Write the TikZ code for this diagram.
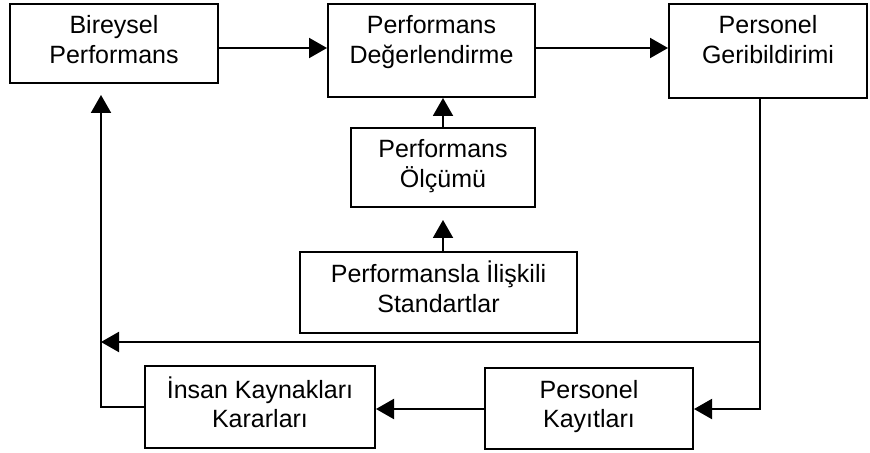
\documentclass[tikz,border=0pt]{standalone}
\usepackage{fontspec}
\setmainfont{Liberation Sans}
\usetikzlibrary{positioning, arrows.meta, calc}

\begin{document}
\begin{tikzpicture}[
    x=0.5pt, y=-0.5pt,
    kutu/.style={
      draw, line width=1pt, align=center, anchor=north,
      inner ysep=0pt, text height=29.75pt, text depth=10.25pt,
      font=\fontsize{12.5}{14.75}\selectfont
    },
    ok/.style={line width=1pt, -{Triangle[length=9pt, width=10pt]}},
]
    \useasboundingbox (0,0) rectangle (870,453);

    % Top row
    \node[kutu, minimum width=104pt, text depth=9.75pt] (biry) at (114,3)
      {Bireysel\\Performans};
    \node[kutu, minimum width=103.5pt, text depth=16.75pt] (degr) at (431.5,3)
      {Performans\\Değerlendirme};
    \node[kutu, minimum width=99pt, text depth=17.25pt] (geri) at (768,3)
      {Personel\\Geribildirimi};

    % Middle column
    \node[kutu, minimum width=92pt, text depth=9.75pt] (olcum) at (443,127)
      {Performans\\Ölçümü};
    \node[kutu, minimum width=138.5pt, text height=30.25pt] (stand) at (438.5,251)
      {Performansla İlişkili\\Standartlar};

    % Bottom row
    \node[kutu, minimum width=115pt, text height=30.75pt] (karar) at (260,365)
      {İnsan Kaynakları\\Kararları};
    \node[kutu, minimum width=104pt, text depth=10.75pt] (kayit) at (589,367)
      {Personel\\Kayıtları};

    % Helper lines
    \coordinate (ust) at (0,48);
    \coordinate (orta) at (0,342);
    \coordinate (alt) at (0,409);
    \coordinate (sol) at (101,0);
    \coordinate (sag) at (760,0);

    % Arrows
    \draw[ok] (biry.east |- ust) -- (degr.west |- ust);
    \draw[ok] (degr.east |- ust) -- (geri.west |- ust);
    \draw[ok] (olcum.north) -- (olcum.north |- degr.south);
    \draw[ok, shorten >=6pt] (stand.north -| olcum.north) -- (olcum.south);
    \draw[ok] (geri.south -| sag) -- (sag |- alt) -- (kayit.east |- alt);
    \draw[ok] (sag |- orta) -- (sol |- orta);
    \draw[ok] (kayit.west |- alt) -- (karar.east |- alt);
    \draw[ok, shorten >=5.5pt] (karar.west) -- (sol |- karar.west) -- (sol |- biry.south);
\end{tikzpicture}
\end{document}
